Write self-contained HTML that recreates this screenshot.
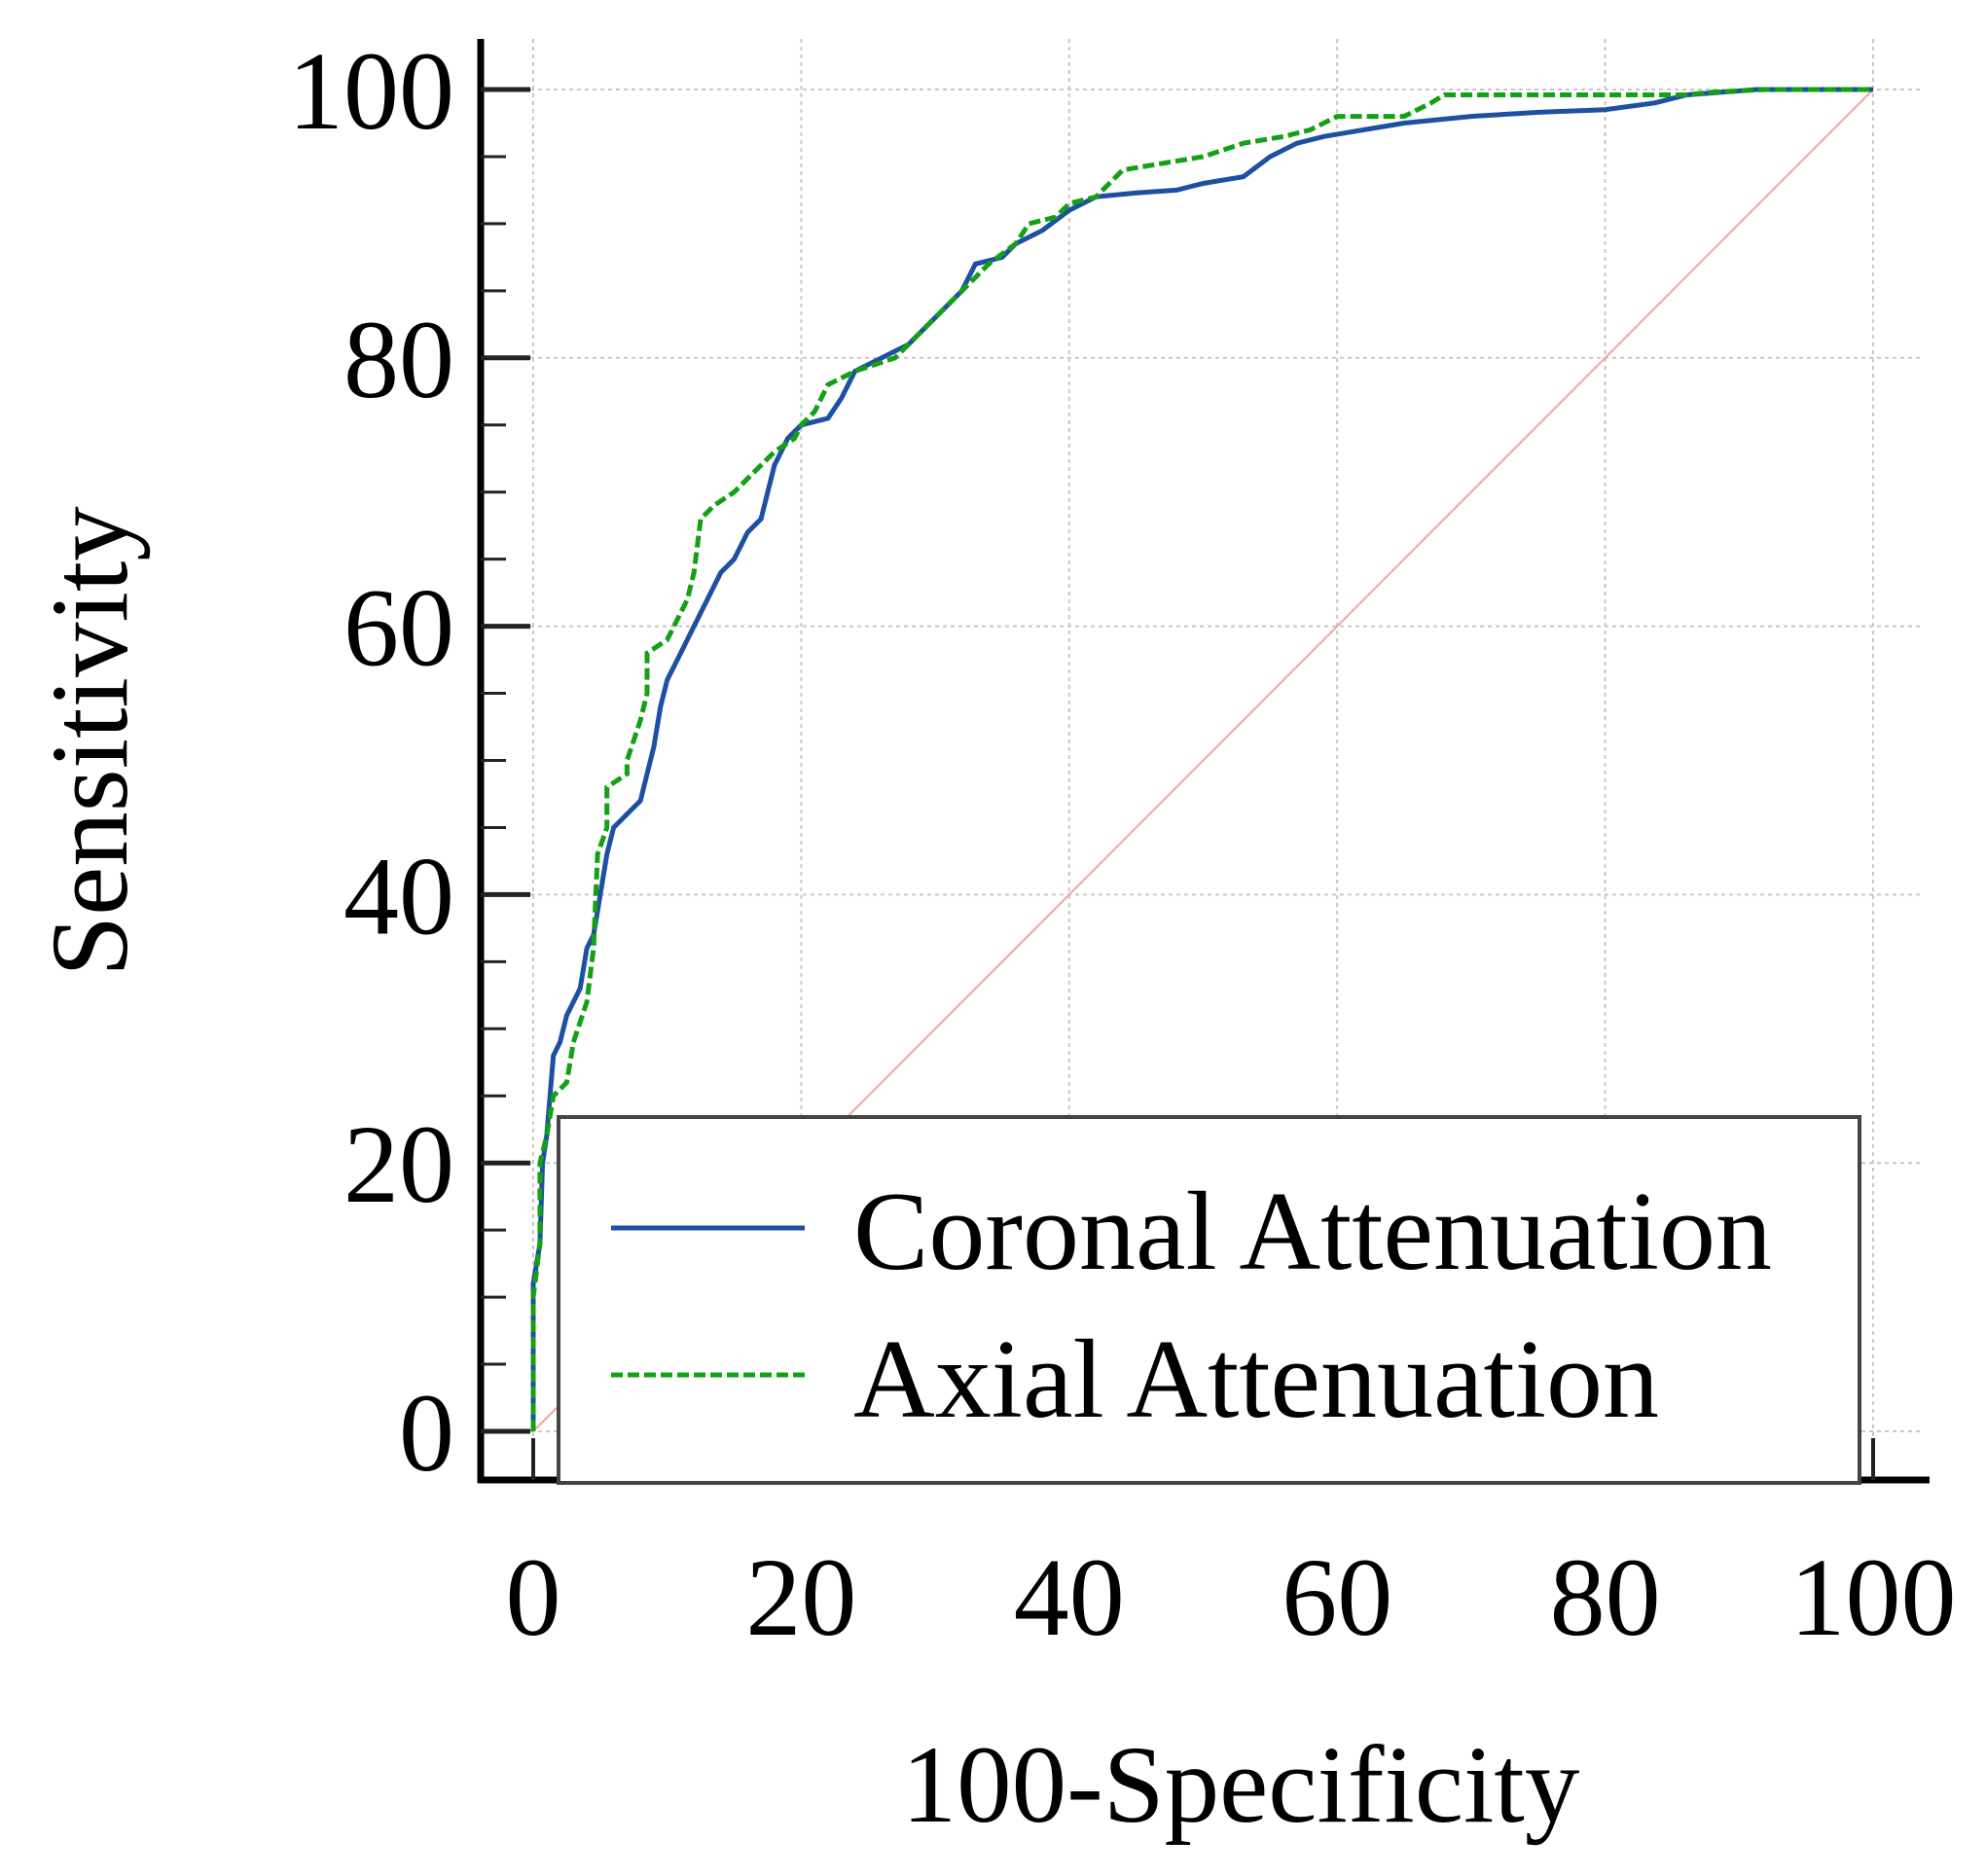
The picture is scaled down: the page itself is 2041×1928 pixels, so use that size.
<!DOCTYPE html>
<html><head><meta charset="utf-8"><style>
html,body{margin:0;padding:0;background:#fff}
svg{display:block}
text{font-family:"Liberation Serif","Times New Roman",serif;fill:#000}
</style></head><body>
<svg id="chart" width="2041" height="1928" viewBox="0 0 2041 1928" xmlns="http://www.w3.org/2000/svg">
<g id="grid"></g>
<g id="axes"></g>
<g id="series"></g>
<g id="legend">
  <rect x="574" y="1148" width="1337" height="376" fill="#fff" stroke="#444" stroke-width="4"/>
  <line x1="628" y1="1262" x2="827" y2="1262" stroke="#1d4fa3" stroke-width="5"/>
  <text x="877" y="1304" font-size="116">Coronal Attenuation</text>
  <line x1="628" y1="1413" x2="827" y2="1413" stroke="#14a014" stroke-width="5" stroke-dasharray="12,5"/>
  <text x="877" y="1456" font-size="116">Axial Attenuation</text>
</g>
<text x="1275" y="1872" font-size="113" text-anchor="middle">100-Specificity</text>
<text transform="translate(130,762) rotate(-90)" font-size="113" text-anchor="middle">Sensitivity</text>
</svg>
<script>
const xTicks = [0, 20, 40, 60, 80, 100];
const yTicks = [0, 20, 40, 60, 80, 100];
const coronalX = [0,0,0.5,0.7,1,1.5,2,2.5,3.5,4,4.5,5,5.5,6,7,8,8.5,9,9.5,10,11,12,13,14,15,16,17,17.5,18,19,20,22,23,24,26,28,29,31,32,33,35,36,38,40,42,45,48,50,53,55,57,59,62,65,70,75,80,83.7,86.1,91.3,100];
const coronalY = [0,11,14,20,22,28,29,31,33,36,37,40,43,45,46,47,49,51,54,56,58,60,62,64,65,67,68,70,72,74,75,75.5,77,79,80,81,82,84,85,87,87.5,88.5,89.5,91,92,92.3,92.5,93,93.5,95,96,96.5,97,97.5,98,98.3,98.5,99,99.6,100,100];
const axialX = [0,0,0.5,0.5,1,1.5,2.5,3,4,4.5,4.8,5.5,5.5,7,7,8,8.5,8.5,10,10.5,11.5,12,12.5,13.5,15,16,17,18,19.5,20,21,22,24,25.5,27,28,30,31,33,34,36,37,39,40,42,43,44,47,50,53,56,58,60,65,67,68,80,86,88,92,100];
const axialY = [0,10,14,20,22,25,26,29,32,36,43,45,48,49,50,53,55,58,59,60,62,64,68,69,70,71,72,73,74,75,76,78,79,79.5,80,81,83,84,86,87,88.5,90,90.5,91.5,92,93,94,94.5,95,96,96.5,97,98,98,99,99.6,99.6,99.6,99.8,100,100];
const diagX = [0, 100];
const diagY = [0, 100];

const NS = "http://www.w3.org/2000/svg";
const X0 = 548, X1 = 1925, Y0 = 1471, Y1 = 92;
function sx(v){ return X0 + (X1 - X0) * v / 100; }
function sy(v){ return Y0 - (Y0 - Y1) * v / 100; }
function mk(tag, attrs, parent){
  const el = document.createElementNS(NS, tag);
  for (const k in attrs) el.setAttribute(k, attrs[k]);
  parent.appendChild(el);
  return el;
}
const grid = document.getElementById('grid');
const axes = document.getElementById('axes');
const series = document.getElementById('series');

xTicks.forEach(v => {
  const l = mk('line', {x1: sx(v), x2: sx(v), y1: 40, y2: 1521, stroke: '#c8c8c8', 'stroke-width': 2, 'stroke-dasharray': '4,4'}, grid);
  
  
});
yTicks.forEach(v => {
  const l = mk('line', {x1: 545, x2: 1977, y1: sy(v), y2: sy(v), stroke: '#c8c8c8', 'stroke-width': 2, 'stroke-dasharray': '4,4'}, grid);
  
  
});

const ya = mk('line', {x1: 494, x2: 494, y1: 40, y2: 1524, stroke: '#000', 'stroke-width': 7}, axes);


const xa = mk('line', {x1: 491, x2: 1983, y1: 1521, y2: 1521, stroke: '#000', 'stroke-width': 7}, axes);


for (let v = 0; v <= 100; v += 5) {
  const major = v % 20 === 0;
  const t = mk('line', {x1: 494, x2: major ? 545 : 520, y1: sy(v), y2: sy(v), stroke: '#222', 'stroke-width': major ? 5 : 3}, axes);
  
  
}
xTicks.forEach(v => {
  const t = mk('line', {x1: sx(v), x2: sx(v), y1: 1478, y2: 1521, stroke: '#222', 'stroke-width': 4}, axes);
  
  
  const lb = mk('text', {x: sx(v), y: 1680, 'font-size': 114, 'text-anchor': 'middle'}, axes);
  lb.textContent = String(v);
  
  
});
yTicks.forEach(v => {
  const lb = mk('text', {x: 467, y: sy(v) + 40, 'font-size': 114, 'text-anchor': 'end'}, axes);
  lb.textContent = String(v);
  
  
});

function pts(xs, ys){ return xs.map((x, i) => sx(x).toFixed(1) + ',' + sy(ys[i]).toFixed(1)).join(' '); }
const d = mk('polyline', {points: pts(diagX, diagY), fill: 'none', stroke: '#e8a8a8', 'stroke-width': 2}, series);


const c = mk('polyline', {points: pts(coronalX, coronalY), fill: 'none', stroke: '#1d4fa3', 'stroke-width': 5}, series);


const a = mk('polyline', {points: pts(axialX, axialY), fill: 'none', stroke: '#14a014', 'stroke-width': 5, 'stroke-dasharray': '12,5'}, series);


</script>
</body></html>
